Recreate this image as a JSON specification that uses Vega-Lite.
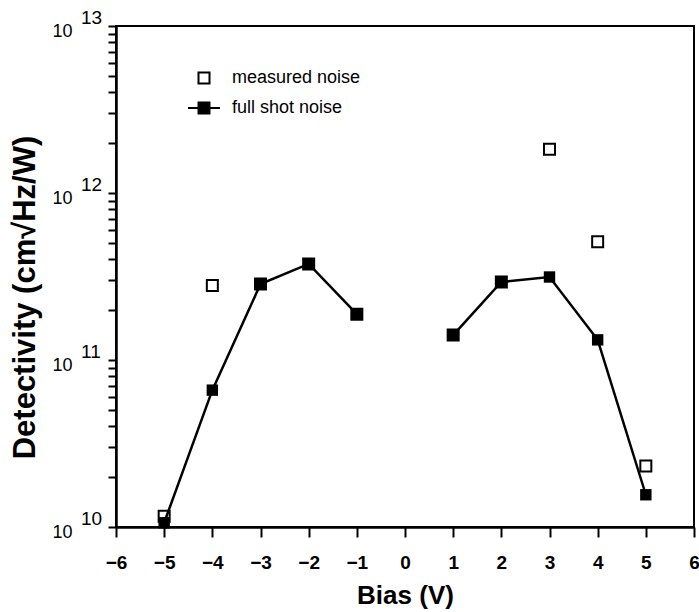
{
  "$schema": "https://vega.github.io/schema/vega-lite/v6.json",
  "width": 578,
  "height": 501,
  "autosize": {"type": "none"},
  "padding": {"left": 116, "top": 26, "right": 5, "bottom": 85},
  "background": "white",
  "config": {
    "font": "Liberation Sans",
    "view": {"stroke": "black", "strokeWidth": 2},
    "axis": {"grid": false, "domainColor": "black", "domainWidth": 2.5, "tickColor": "black", "tickWidth": 2, "labelColor": "black", "titleColor": "black"}
  },
  "datasets": {
    "points": [
      {"bias": -5, "value": 1.16e10, "series": "measured noise", "segment": "neg"},
      {"bias": -4, "value": 2.79e11, "series": "measured noise", "segment": "neg"},
      {"bias": -3, "value": 2.85e11, "series": "measured noise", "segment": "neg"},
      {"bias": -2, "value": 3.76e11, "series": "measured noise", "segment": "neg"},
      {"bias": -1, "value": 1.88e11, "series": "measured noise", "segment": "neg"},
      {"bias": 1, "value": 1.41e11, "series": "measured noise", "segment": "pos"},
      {"bias": 2, "value": 2.93e11, "series": "measured noise", "segment": "pos"},
      {"bias": 3, "value": 1.83e12, "series": "measured noise", "segment": "pos"},
      {"bias": 4, "value": 5.1e11, "series": "measured noise", "segment": "pos"},
      {"bias": 5, "value": 2.32e10, "series": "measured noise", "segment": "pos"},
      {"bias": -5, "value": 1.06e10, "series": "full shot noise", "segment": "neg"},
      {"bias": -4, "value": 6.6e10, "series": "full shot noise", "segment": "neg"},
      {"bias": -3, "value": 2.85e11, "series": "full shot noise", "segment": "neg"},
      {"bias": -2, "value": 3.76e11, "series": "full shot noise", "segment": "neg"},
      {"bias": -1, "value": 1.88e11, "series": "full shot noise", "segment": "neg"},
      {"bias": 1, "value": 1.41e11, "series": "full shot noise", "segment": "pos"},
      {"bias": 2, "value": 2.93e11, "series": "full shot noise", "segment": "pos"},
      {"bias": 3, "value": 3.14e11, "series": "full shot noise", "segment": "pos"},
      {"bias": 4, "value": 1.32e11, "series": "full shot noise", "segment": "pos"},
      {"bias": 5, "value": 1.56e10, "series": "full shot noise", "segment": "pos"}
    ],
    "decades": [
      {"value": 1e10, "exponent": "10"},
      {"value": 1e11, "exponent": "11"},
      {"value": 1e12, "exponent": "12"},
      {"value": 1e13, "exponent": "13"}
    ]
  },
  "layer": [
    {
      "data": {"name": "points"},
      "transform": [{"filter": "datum.series == 'measured noise'"}],
      "mark": {"type": "point", "filled": true, "size": 400, "strokeWidth": 2, "opacity": 1},
      "encoding": {
        "x": {
          "field": "bias", "type": "quantitative",
          "scale": {"domain": [-6, 6], "nice": false, "zero": false},
          "axis": {
            "title": "Bias (V)", "values": [-6,-5,-4,-3,-2,-1,0,1,2,3,4,5,6],
            "labelFontSize": 19, "labelFontWeight": "bold", "labelFlush": false, "labelPadding": 16, "tickSize": 10,
            "titleFontSize": 26, "titleFontWeight": "bold", "titlePadding": 10
          }
        },
        "y": {
          "field": "value", "type": "quantitative",
          "scale": {"type": "log", "domain": [1e10, 1e13], "nice": false},
          "axis": {
            "title": "Detectivity (cm√Hz/W)",
            "values": [1e10,2e10,3e10,4e10,5e10,6e10,7e10,8e10,9e10,1e11,2e11,3e11,4e11,5e11,6e11,7e11,8e11,9e11,1e12,2e12,3e12,4e12,5e12,6e12,7e12,8e12,9e12,1e13],
            "labelExpr": "datum.value == 1e13 || datum.value == 1e12 || datum.value == 1e11 || datum.value == 1e10 ? '10' : ''",
            "labelOverlap": false, "labelFlush": false, "labelFontSize": 18, "labelPadding": 36, "labelOffset": 5,
            "tickSize": 8,
            "titleFontSize": 31, "titleFontWeight": "bold", "titleAngle": -90, "titleX": -82, "titleY": 271, "titleAlign": "center", "titleBaseline": "alphabetic"
          }
        },
        "shape": {
          "field": "series", "type": "nominal",
          "scale": {"domain": ["measured noise", "full shot noise"], "range": ["M-0.55,-0.55H0.55V0.55H-0.55Z", "M-1.6,0H-0.55M0.55,0H1.6M-0.55,-0.55H0.55V0.55H-0.55Z"]},
          "legend": {"title": null, "orient": "none", "legendX": 77, "legendY": 41, "symbolSize": 400, "symbolStrokeWidth": 2, "labelFontSize": 18, "labelOffset": 17, "rowPadding": 9, "padding": 0, "labelColor": "black"}
        },
        "fill": {
          "field": "series", "type": "nominal",
          "scale": {"domain": ["measured noise", "full shot noise"], "range": ["white", "black"]},
          "legend": {"title": null, "orient": "none", "legendX": 77, "legendY": 41, "symbolSize": 400, "symbolStrokeWidth": 2, "labelFontSize": 18, "labelOffset": 17, "rowPadding": 9, "padding": 0, "labelColor": "black"}
        },
        "stroke": {
          "field": "series", "type": "nominal",
          "scale": {"domain": ["measured noise", "full shot noise"], "range": ["black", "black"]},
          "legend": {"title": null, "orient": "none", "legendX": 77, "legendY": 41, "symbolSize": 400, "symbolStrokeWidth": 2, "labelFontSize": 18, "labelOffset": 17, "rowPadding": 9, "padding": 0, "labelColor": "black"}
        }
      }
    },
    {
      "data": {"name": "points"},
      "transform": [{"filter": "datum.series == 'full shot noise'"}],
      "mark": {"type": "line", "color": "black", "strokeWidth": 2.5, "point": {"filled": true, "shape": "square", "size": 130, "color": "black"}},
      "encoding": {
        "x": {"field": "bias", "type": "quantitative"},
        "y": {"field": "value", "type": "quantitative"},
        "detail": {"field": "segment", "type": "nominal"}
      }
    },
    {
      "data": {"name": "decades"},
      "mark": {"type": "text", "align": "left", "baseline": "alphabetic", "dx": -35, "dy": -2, "fontSize": 19, "fill": "black", "clip": false},
      "encoding": {
        "x": {"datum": -6, "type": "quantitative"},
        "y": {"field": "value", "type": "quantitative"},
        "text": {"field": "exponent", "type": "nominal"}
      }
    }
  ]
}
